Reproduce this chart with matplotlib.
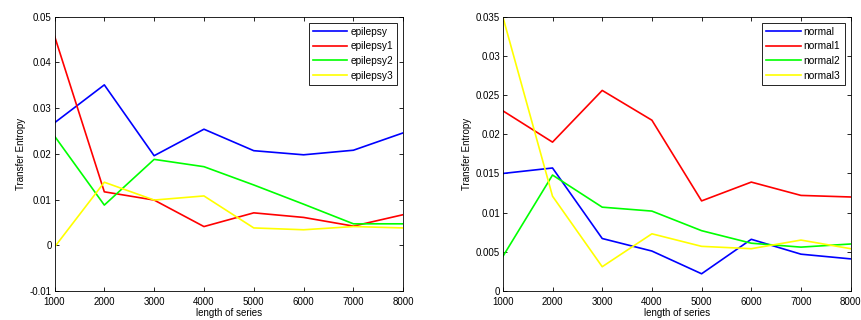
import matplotlib
matplotlib.use("Agg")
import matplotlib.pyplot as plt

x = [1000, 2000, 3000, 4000, 5000, 6000, 7000, 8000]

epilepsy = [0.0268, 0.0351, 0.0196, 0.0254, 0.0207, 0.0198, 0.0208, 0.0246]
epilepsy1 = [0.0458, 0.0117, 0.0099, 0.0041, 0.0071, 0.0061, 0.0042, 0.0067]
epilepsy2 = [0.0239, 0.0088, 0.0188, 0.0172, 0.0132, 0.0090, 0.0047, 0.0047]
epilepsy3 = [-0.0004, 0.0138, 0.0099, 0.0108, 0.0038, 0.0034, 0.0041, 0.0038]

normal = [0.0150, 0.0157, 0.0067, 0.0051, 0.0022, 0.0066, 0.0047, 0.0041]
normal1 = [0.0230, 0.0190, 0.0256, 0.0218, 0.0115, 0.0139, 0.0122, 0.0120]
normal2 = [0.0044, 0.0148, 0.0107, 0.0102, 0.0077, 0.0061, 0.0056, 0.0060]
normal3 = [0.0350, 0.0121, 0.0031, 0.0073, 0.0057, 0.0054, 0.0065, 0.0054]

left_labels = ["epilepsy", "epilepsy1", "epilepsy2", "epilepsy3"]
right_labels = ["normal", "normal1", "normal2", "normal3"]
left_yticks = [-0.01, 0, 0.01, 0.02, 0.03, 0.04, 0.05]
left_yticklabels = ["-0.01", "0", "0.01", "0.02", "0.03", "0.04", "0.05"]
right_yticks = [0, 0.005, 0.01, 0.015, 0.02, 0.025, 0.03, 0.035]
right_yticklabels = ["0", "0.005", "0.01", "0.015", "0.02", "0.025", "0.03", "0.035"]

colors = ["#0000ff", "#ff0000", "#00ff00", "#ffff00"]

plt.rcParams['font.family'] = ['Liberation Sans', 'DejaVu Sans']
fig = plt.figure(figsize=(8.61, 3.2), dpi=100)
ax1 = fig.add_axes([0.0633, 0.0906, 0.405, 0.857])
ax2 = fig.add_axes([0.584, 0.0906, 0.404, 0.857])

def style(ax, series, labels, yticks, yticklabels, ylim):
    for s, lab, c in zip(series, labels, colors):
        ax.plot(x, s, color=c, lw=1.2, label=lab)
    ax.set_xlim(1000, 8000)
    ax.set_ylim(*ylim)
    ax.set_xticks(x)
    ax.set_xticklabels([str(v) for v in x])
    ax.set_yticks(yticks)
    ax.set_yticklabels(yticklabels)
    ax.tick_params(direction='in', top=True, right=True, labelsize=7, length=3, width=0.6)
    ax.tick_params(axis='x', pad=4)
    ax.tick_params(axis='y', pad=2)
    for sp in ax.spines.values():
        sp.set_linewidth(0.6)
    ax.set_xlabel("length of series", fontsize=7, labelpad=1)
    ax.set_ylabel("Transfer Entropy", fontsize=7, labelpad=3)
    leg = ax.legend(loc='upper right', fontsize=7.3, fancybox=False, framealpha=1,
                    edgecolor='black', handlelength=3.4, borderaxespad=0.6,
                    labelspacing=0.45, borderpad=0.4, handletextpad=0.3)
    leg.get_frame().set_linewidth(0.6)

style(ax1, [epilepsy, epilepsy1, epilepsy2, epilepsy3], left_labels,
      left_yticks, left_yticklabels, (-0.01, 0.05))
style(ax2, [normal, normal1, normal2, normal3], right_labels,
      right_yticks, right_yticklabels, (0, 0.035))

fig.savefig("out.png", dpi=100)
